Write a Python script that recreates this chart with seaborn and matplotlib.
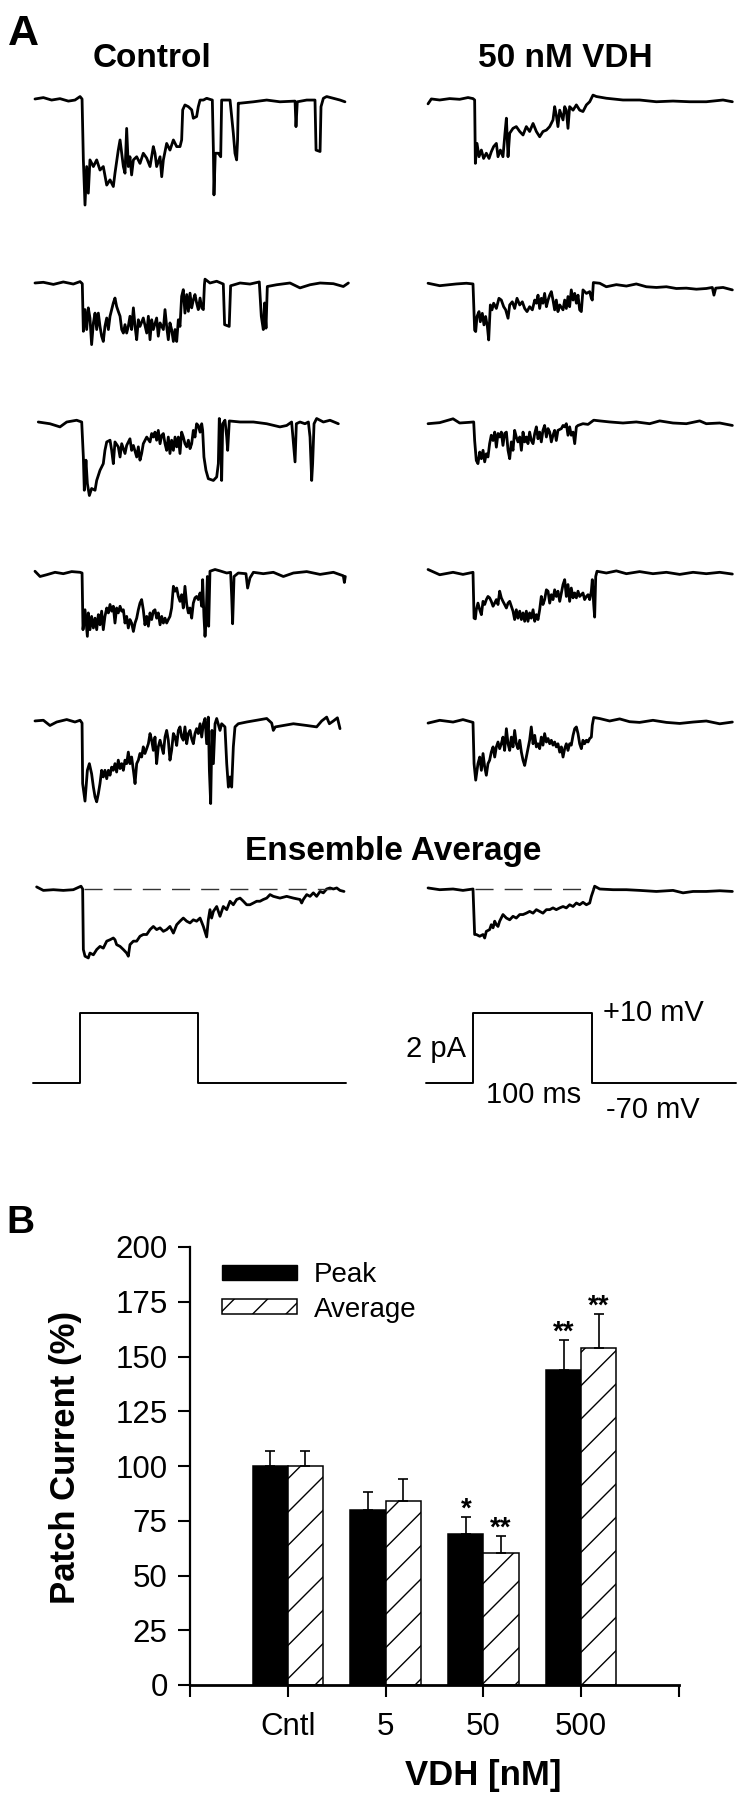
import numpy as np
import pandas as pd
import matplotlib
matplotlib.use("Agg")
import matplotlib.pyplot as plt
import matplotlib.patches as mpatches
import seaborn as sns

# ---------------- Panel A: single-channel traces (t in ms, current in pA) ----------------
ctrl_1 = [(-40.7, 0), (-33.6, 0.04), (-26.6, -0.03), (-19.5, 0.01), (-12.4, -0.06), (-6.8, -0.03),
          (-2.5, 0.07), (-0.8, 0), (0.3, -1.74), (1.7, -3.03), (3.1, -1.93), (4.5, -2.69), (5.9, -1.74),
          (8.8, -1.93), (11.6, -1.74), (14.4, -2.03), (17.2, -1.93), (20.1, -2.46), (22.9, -2.31),
          (25.7, -2.5), (27.1, -2.12), (29.9, -1.46), (31.4, -1.17), (32.8, -1.55), (34.2, -1.93),
          (35.6, -2.12), (37.0, -0.84), (38.4, -1.93), (39.8, -1.65), (41.2, -2.17), (42.7, -1.74),
          (45.5, -1.65), (48.3, -1.84), (51.1, -1.55), (54.0, -1.69), (56.8, -1.93), (59.6, -1.36),
          (61.0, -1.55), (62.4, -1.93), (65.3, -1.65), (66.7, -2.22), (68.1, -1.74), (70.9, -1.27),
          (73.7, -1.46), (76.6, -1.17), (79.4, -1.36), (82.2, -1.36), (83.6, -1.17), (84.5, -0.31),
          (86.4, -0.17), (89.3, -0.22), (92.1, -0.31), (93.5, -0.55), (96.3, -0.5), (97.7, -0.22),
          (99.2, -0.03), (102.0, -0.03), (104.8, 0.02), (107.6, -0.01), (109.6, -0.03), (110.5, -1.46),
          (111.0, -2.74), (112.1, -1.55), (114.7, -1.55), (116.7, -1.65), (117.5, -0.03), (118.9, -0.03),
          (124.6, -0.03), (127.4, -0.98), (128.8, -1.55), (130.2, -1.74), (131.0, -1.17), (131.6, -0.12),
          (133.1, -0.12), (144.4, -0.08), (155.7, -0.03), (166.9, -0.08), (179.7, -0.06), (180.5, -0.79),
          (181.6, -0.08), (189.6, -0.03), (196.6, -0.03), (197.5, -1.46), (200.9, -1.5), (201.7, -0.22),
          (203.7, 0.02), (206.5, 0.07), (212.2, 0.02), (217.8, -0.03), (222.0, -0.08)]

ctrl_2 = [(-40.7, 0), (-33.6, 0.02), (-25.1, -0.04), (-16.7, 0.03), (-8.2, -0.03), (-2.5, 0.04),
          (-0.6, -0.02), (0.3, -1.38), (1.7, -0.76), (3.1, -1.33), (4.5, -0.71), (5.9, -1.0), (7.3, -1.76),
          (8.8, -1.14), (10.2, -0.86), (11.6, -1.33), (13.0, -0.86), (14.4, -1.24), (15.8, -1.52),
          (17.2, -1.67), (18.6, -1.24), (20.1, -1.0), (21.5, -1.33), (22.9, -0.95), (24.3, -0.76),
          (25.7, -0.57), (27.1, -0.43), (28.5, -0.67), (29.9, -0.81), (31.4, -0.95), (32.8, -1.33),
          (34.2, -1.43), (35.6, -1.19), (37.0, -1.43), (38.4, -1.24), (39.8, -0.95), (41.2, -1.33),
          (42.7, -0.71), (44.1, -1.24), (45.5, -1.62), (46.9, -1.05), (48.3, -1.24), (51.1, -1.0),
          (54.0, -1.43), (55.4, -0.95), (56.8, -1.62), (58.2, -1.05), (59.6, -1.33), (62.4, -1.0),
          (63.8, -1.52), (65.3, -1.14), (68.1, -1.33), (69.5, -0.76), (70.9, -1.24), (72.3, -1.62),
          (73.7, -1.14), (75.1, -1.33), (76.6, -1.67), (78.0, -1.33), (79.4, -1.67), (80.8, -1.05),
          (82.2, -1.24), (83.6, -0.38), (85.0, -0.19), (86.4, -0.86), (87.9, -0.33), (89.3, -0.81),
          (90.7, -0.29), (92.1, -0.71), (93.5, -0.48), (94.9, -0.33), (96.3, -0.57), (97.7, -0.76),
          (99.2, -0.43), (100.6, -0.71), (102.0, -0.76), (102.9, -0.05), (103.4, 0.11), (107.6, 0.0),
          (113.3, 0.05), (118.9, -0.03), (120.0, -1.19), (123.9, -1.24), (125.1, -0.08), (133.1, 0.0),
          (141.5, -0.03), (149.4, 0.03), (151.1, -0.95), (152.8, -1.33), (153.9, -0.57), (155.1, -1.29),
          (156.2, -0.1), (164.1, -0.05), (175.4, 0.0), (183.9, -0.14), (192.4, -0.05), (200.9, 0.0),
          (212.2, -0.02), (220.6, -0.1), (224.9, 0.0)]

ctrl_3 = [(-37.9, 0), (-28.0, -0.05), (-19.5, -0.14), (-13.8, 0), (-5.4, 0.05), (-1.1, 0), (0.3, -1.0),
          (1.1, -1.95), (2.5, -1.09), (3.7, -1.76), (5.4, -2.1), (7.3, -1.9), (10.2, -1.95), (11.6, -1.67),
          (14.4, -1.38), (17.2, -1.19), (18.6, -0.81), (20.1, -0.57), (22.9, -0.52), (24.3, -0.81),
          (25.7, -1.19), (27.1, -0.57), (29.9, -0.71), (31.4, -1.0), (32.8, -0.62), (35.6, -0.9),
          (37.0, -0.67), (39.8, -0.48), (41.2, -0.81), (42.7, -0.67), (45.5, -1.0), (46.9, -0.71),
          (48.3, -1.09), (49.7, -0.9), (51.1, -0.62), (54.0, -0.43), (56.8, -0.57), (58.2, -0.33),
          (59.6, -0.43), (61.0, -0.29), (62.4, -0.52), (63.8, -0.24), (65.3, -0.62), (66.7, -0.38),
          (68.1, -0.33), (69.5, -0.62), (70.9, -0.81), (72.3, -0.43), (73.7, -0.9), (75.1, -0.52),
          (76.6, -0.81), (78.0, -0.43), (79.4, -0.71), (80.8, -0.43), (82.2, -0.9), (83.6, -0.29),
          (85.0, -0.43), (86.4, -0.62), (87.9, -0.71), (89.3, -0.52), (90.7, -0.76), (92.1, -0.62),
          (93.5, -0.24), (94.9, -0.43), (96.3, -0.05), (97.7, -0.1), (99.2, -0.29), (100.6, -0.05),
          (101.4, -0.24), (102.5, -1.0), (104.2, -1.38), (106.2, -1.62), (110.5, -1.67), (113.3, -1.57),
          (114.7, -1.19), (115.5, 0.1), (116.7, -0.33), (117.5, -1.67), (118.4, -0.05), (120.3, 0.05),
          (121.8, -0.43), (122.6, -0.81), (124.0, 0.03), (133.1, 0), (144.4, 0), (155.7, -0.05),
          (166.9, -0.14), (172.6, -0.1), (176.8, 0), (179.7, -1.14), (180.8, -0.05), (183.9, 0),
          (188.1, -0.05), (191.0, 0), (192.4, -0.43), (193.8, -1.67), (194.6, -1.19), (195.8, -0.05),
          (198.0, 0.1), (203.7, 0), (209.3, 0.05), (216.4, -0.05)]

ctrl_4 = [(-40.7, 0.05), (-36.4, -0.1), (-30.8, -0.05), (-23.7, 0.02), (-16.7, -0.02), (-9.6, 0.04),
          (-2.5, 0.02), (-0.8, 0), (0.0, -1.62), (1.7, -1.05), (3.7, -1.81), (4.5, -1.14), (5.9, -1.62),
          (7.3, -1.24), (8.8, -1.57), (10.2, -1.29), (11.6, -1.62), (13.0, -1.19), (14.4, -1.48),
          (15.8, -1.09), (17.2, -1.62), (18.6, -1.24), (20.1, -1.0), (21.5, -1.14), (22.9, -0.9),
          (24.3, -1.09), (25.7, -0.95), (27.1, -1.43), (28.5, -1.0), (29.9, -1.14), (31.4, -0.95),
          (32.8, -1.09), (34.2, -1.05), (35.6, -1.43), (37.0, -1.24), (38.4, -1.57), (39.8, -1.33),
          (41.2, -1.43), (42.7, -1.67), (44.1, -1.43), (45.5, -1.29), (46.9, -1.05), (48.3, -0.86),
          (49.7, -0.76), (51.1, -1.05), (52.5, -1.48), (54.0, -1.24), (55.4, -1.52), (56.8, -1.14),
          (58.2, -1.33), (59.6, -1.09), (61.0, -1.05), (62.4, -1.29), (63.8, -1.14), (65.3, -1.48),
          (66.7, -1.24), (68.1, -1.43), (69.5, -1.29), (70.9, -1.43), (72.3, -1.33), (73.7, -1.24),
          (75.1, -1.0), (76.6, -0.38), (78.0, -0.52), (79.4, -0.43), (80.8, -0.67), (82.2, -0.81),
          (83.6, -0.62), (85.0, -1.0), (86.4, -0.38), (87.9, -0.9), (89.3, -1.14), (90.7, -1.0),
          (92.1, -1.29), (93.5, -0.86), (94.9, -0.71), (96.3, -0.67), (97.7, -0.76), (99.2, -0.57),
          (100.6, -0.95), (101.4, -0.19), (102.5, -1.24), (103.4, -1.81), (104.2, -1.43), (105.4, -0.1),
          (106.5, -1.52), (107.6, 0.05), (111.9, 0.1), (116.1, 0.06), (121.8, 0), (125.1, 0.02),
          (126.0, -0.67), (126.8, -1.45), (128.0, -0.1), (131.6, 0), (138.1, -0.02), (139.5, -0.43),
          (141.5, -0.14), (144.4, 0.02), (152.8, -0.02), (161.3, 0.02), (169.8, -0.1), (178.3, 0),
          (189.6, 0.04), (200.9, -0.04), (212.2, 0.02), (220.6, -0.08), (221.5, -0.27), (222.3, -0.1)]

ctrl_5 = [(-40.7, 0.03), (-33.6, 0.05), (-28.0, -0.1), (-22.3, 0), (-13.8, 0.07), (-6.8, 0), (-2.5, 0.05),
          (-0.8, -0.03), (-0.3, -1.76), (1.7, -2.26), (3.7, -1.38), (5.4, -1.19), (7.3, -1.48),
          (8.8, -1.86), (10.2, -2.14), (11.6, -2.28), (13.0, -2.05), (14.4, -1.76), (15.8, -1.38),
          (17.2, -1.57), (18.6, -1.38), (20.1, -1.62), (21.5, -1.38), (22.9, -1.52), (24.3, -1.29),
          (25.7, -1.38), (27.1, -1.19), (28.5, -1.43), (29.9, -1.09), (31.4, -1.33), (32.8, -1.19),
          (34.2, -1.38), (35.6, -1.09), (37.0, -1.19), (38.4, -0.86), (39.8, -1.19), (41.2, -1.0),
          (42.7, -1.38), (44.1, -1.76), (45.5, -1.19), (46.9, -1.09), (48.3, -0.9), (49.7, -1.0),
          (51.1, -0.71), (52.5, -0.9), (54.0, -0.76), (55.4, -0.62), (56.8, -0.33), (58.2, -0.52),
          (59.6, -0.81), (61.0, -0.43), (62.4, -1.19), (63.8, -0.71), (65.3, -0.52), (66.7, -0.71),
          (68.1, -0.9), (69.5, -0.43), (70.9, -0.24), (72.3, -0.52), (73.7, -1.09), (75.1, -0.81),
          (76.6, -0.33), (78.0, -0.43), (79.4, -0.67), (80.8, -0.24), (82.2, -0.14), (83.6, -0.43),
          (85.0, -0.52), (86.4, -0.14), (87.9, -0.62), (89.3, -0.33), (90.7, -0.24), (92.1, -0.48),
          (93.5, -0.62), (94.9, -0.33), (96.3, -0.19), (97.7, -0.33), (99.2, -0.05), (100.6, -0.43),
          (102.0, -0.05), (103.4, 0.1), (104.8, -0.62), (106.2, 0.14), (107.1, -1.38), (108.2, -2.33),
          (109.3, -0.24), (110.5, -1.19), (111.9, -0.05), (113.3, 0.1), (116.1, -0.24), (117.5, -0.05),
          (120.3, -0.14), (121.8, -1.19), (123.2, -1.86), (124.6, -1.57), (126.0, -1.86), (127.4, -0.71),
          (128.8, -0.14), (131.6, -0.05), (138.7, 0), (147.2, 0.05), (155.7, 0.1), (159.9, -0.03),
          (161.3, -0.24), (163.0, -0.14), (169.8, -0.1), (178.3, -0.05), (189.6, -0.1), (198.0, -0.14),
          (202.3, 0.03), (206.5, 0.14), (208.8, -0.05), (212.2, 0.03), (215.6, 0.12), (217.8, -0.19)]

ctrl_avg = [(-39.3, 0.06), (-33.6, -0.04), (-25.1, -0.02), (-16.7, -0.04), (-8.2, -0.02), (-1.7, 0.08),
            (-0.3, 0), (0.3, -1.73), (1.7, -1.92), (4.5, -1.97), (5.9, -1.83), (8.8, -1.88), (11.6, -1.73),
            (14.4, -1.64), (17.2, -1.69), (20.1, -1.49), (22.9, -1.45), (25.7, -1.4), (27.1, -1.45),
            (28.5, -1.59), (31.4, -1.64), (34.2, -1.73), (37.0, -1.83), (38.4, -1.92), (39.8, -1.59),
            (42.7, -1.49), (45.5, -1.49), (48.3, -1.35), (51.1, -1.3), (54.0, -1.3), (56.8, -1.16),
            (59.6, -1.07), (62.4, -1.16), (65.3, -1.11), (68.1, -1.21), (70.9, -1.16), (73.7, -1.07),
            (76.6, -1.26), (79.4, -1.02), (82.2, -0.92), (85.0, -0.83), (87.9, -0.92), (90.7, -0.97),
            (93.5, -0.88), (96.3, -0.92), (99.2, -0.83), (102.0, -1.07), (104.8, -1.37), (106.2, -0.88),
            (107.6, -0.59), (109.0, -0.83), (110.5, -0.64), (113.3, -0.5), (116.1, -0.78), (118.9, -0.5),
            (121.8, -0.59), (124.6, -0.35), (127.4, -0.45), (130.2, -0.3), (133.1, -0.26), (135.9, -0.35),
            (138.7, -0.45), (141.5, -0.45), (144.4, -0.4), (147.2, -0.35), (150.0, -0.35), (152.8, -0.3),
            (155.7, -0.26), (158.5, -0.16), (161.3, -0.21), (166.9, -0.26), (172.6, -0.21), (178.3, -0.26),
            (183.9, -0.3), (185.3, -0.4), (186.7, -0.3), (189.6, -0.16), (192.4, -0.21), (195.2, -0.11),
            (198.0, -0.21), (200.9, -0.07), (203.7, -0.11), (206.5, 0), (209.3, 0.03), (212.2, 0),
            (215.0, 0.03), (217.8, -0.04), (221.2, -0.07)]

vdh_1 = [(-39.8, -0.11), (-37.0, 0.03), (-29.9, 0), (-21.5, 0.04), (-13.0, 0.02), (-5.9, 0.07),
         (-1.7, 0.04), (-0.3, 0), (0.3, -1.81), (1.7, -1.24), (3.4, -1.62), (5.4, -1.43), (7.3, -1.67),
         (9.6, -1.52), (11.9, -1.67), (13.8, -1.48), (15.8, -1.33), (18.1, -1.24), (19.5, -1.62),
         (21.5, -1.43), (23.7, -1.62), (25.4, -0.95), (26.6, -0.52), (28.0, -1.62), (29.4, -0.95),
         (32.2, -0.81), (35.0, -0.76), (37.9, -0.9), (40.7, -1.0), (43.5, -0.76), (46.3, -0.9),
         (49.2, -0.67), (52.0, -0.9), (54.8, -1.05), (57.6, -0.9), (60.5, -0.86), (63.3, -0.76),
         (66.1, -0.57), (67.5, -0.19), (68.9, -0.43), (70.3, -0.76), (71.8, -0.29), (74.6, -0.57),
         (76.0, -0.19), (77.4, -0.29), (78.8, -0.81), (80.2, -0.19), (83.1, -0.29), (85.9, -0.14),
         (88.7, -0.29), (91.5, -0.33), (94.4, -0.14), (97.2, -0.05), (100.0, 0.14), (102.8, 0.1),
         (111.3, 0.05), (125.4, 0), (139.5, 0), (153.7, -0.05), (167.8, -0.03), (181.9, -0.05),
         (196.0, -0.05), (210.2, 0), (218.1, -0.05)]

vdh_2 = [(-39.8, 0.05), (-29.9, -0.02), (-15.8, 0.03), (-7.3, 0.05), (-1.7, 0.03), (-0.3, -1.29),
         (0.6, -1.33), (1.7, -0.9), (3.4, -0.76), (4.5, -1.05), (6.2, -0.81), (7.6, -1.14), (9.0, -0.9),
         (10.5, -1.19), (11.6, -1.57), (13.0, -0.57), (14.4, -0.71), (15.8, -0.52), (18.1, -0.67),
         (20.3, -0.38), (22.3, -0.43), (24.3, -0.62), (26.0, -0.71), (28.0, -0.95), (29.4, -0.57),
         (31.6, -0.48), (33.6, -0.67), (35.6, -0.38), (37.9, -0.57), (40.1, -0.48), (42.1, -0.67),
         (44.1, -0.76), (46.3, -0.62), (48.6, -0.71), (50.6, -0.43), (52.0, -0.52), (53.4, -0.29),
         (54.8, -0.67), (56.2, -0.38), (57.6, -0.52), (59.0, -0.24), (60.5, -0.62), (61.9, -0.43),
         (63.3, -0.29), (64.7, -0.19), (66.1, -0.43), (67.5, -0.71), (68.9, -0.43), (70.3, -0.76),
         (71.8, -0.57), (74.6, -0.71), (76.0, -0.43), (77.4, -0.67), (78.8, -0.33), (80.2, -0.62),
         (81.6, -0.14), (83.1, -0.43), (84.5, -0.24), (85.9, -0.52), (87.3, -0.29), (88.7, -0.71),
         (90.1, -0.76), (91.5, -0.14), (94.4, -0.24), (97.2, -0.19), (98.6, -0.38), (99.4, -0.43),
         (100.3, 0.07), (105.7, 0.05), (111.3, -0.05), (119.8, 0.01), (128.3, -0.03), (136.7, 0.03),
         (145.2, -0.05), (153.7, -0.07), (162.2, -0.05), (170.6, -0.1), (179.1, -0.09), (187.6, -0.12),
         (196.0, -0.1), (201.1, -0.07), (202.5, -0.29), (204.0, -0.09), (210.2, -0.07), (218.1, -0.14)]

vdh_3 = [(-39.8, -0.02), (-29.9, 0.01), (-18.6, 0.12), (-13.0, 0), (-4.5, 0.02), (-1.1, 0.03),
         (-0.3, -0.5), (1.1, -1.07), (2.5, -1.16), (4.0, -0.83), (5.4, -1.02), (6.8, -0.78), (8.2, -1.11),
         (9.6, -0.88), (11.0, -0.97), (12.4, -0.59), (13.8, -0.35), (15.3, -0.5), (16.7, -0.26),
         (18.1, -0.69), (19.5, -0.3), (20.9, -0.4), (22.3, -0.26), (23.7, -0.64), (25.1, -0.3),
         (26.6, -0.26), (28.0, -0.78), (29.4, -1.02), (30.8, -0.54), (32.2, -0.78), (33.6, -0.21),
         (35.0, -0.4), (36.4, -0.54), (37.9, -0.4), (39.3, -0.78), (40.7, -0.26), (42.1, -0.54),
         (43.5, -0.4), (44.9, -0.59), (46.3, -0.26), (47.7, -0.5), (49.2, -0.59), (50.6, -0.3),
         (52.0, -0.11), (53.4, -0.45), (54.8, -0.26), (56.2, -0.54), (57.6, -0.21), (59.0, -0.07),
         (60.5, -0.4), (61.9, -0.16), (63.3, -0.26), (64.7, -0.54), (66.1, -0.35), (67.5, -0.21),
         (68.9, -0.5), (70.3, -0.21), (73.2, -0.16), (74.6, -0.07), (76.0, -0.11), (77.4, -0.02),
         (78.8, -0.35), (80.2, -0.11), (81.6, -0.35), (83.1, -0.26), (84.5, -0.59), (85.9, -0.11),
         (87.3, -0.07), (91.5, -0.02), (95.8, -0.04), (100.6, 0.08), (105.7, 0.06), (114.1, 0.03),
         (125.4, 0), (136.7, 0.03), (148.0, -0.02), (156.5, 0.06), (167.8, 0), (179.1, -0.02),
         (190.4, 0.06), (196.0, -0.02), (207.4, 0), (218.1, -0.07)]

vdh_4 = [(-39.8, 0.1), (-29.9, -0.05), (-18.6, 0.02), (-10.2, -0.04), (-1.7, 0.02), (-0.8, -1.29),
         (0.3, -1.31), (1.1, -1.05), (2.5, -0.86), (4.0, -1.05), (5.4, -1.19), (6.8, -0.81), (8.2, -0.9),
         (9.6, -0.76), (11.0, -0.67), (12.4, -0.71), (13.8, -0.81), (15.3, -0.95), (16.7, -0.86),
         (18.1, -0.76), (19.5, -0.9), (20.9, -0.52), (22.3, -0.71), (23.7, -0.81), (25.1, -0.9),
         (26.6, -1.0), (28.0, -0.86), (29.4, -0.81), (30.8, -0.95), (32.2, -1.09), (33.6, -1.33),
         (35.0, -1.05), (36.4, -1.29), (37.9, -1.09), (39.3, -1.33), (40.7, -1.14), (42.1, -1.38),
         (43.5, -1.09), (44.9, -1.38), (46.3, -1.14), (47.7, -1.29), (49.2, -1.05), (50.6, -1.38),
         (52.0, -1.19), (53.4, -1.33), (54.8, -1.05), (56.2, -0.67), (57.6, -0.9), (59.0, -0.76),
         (60.5, -0.48), (61.9, -0.52), (63.3, -0.86), (64.7, -0.62), (66.1, -0.76), (67.5, -0.48),
         (68.9, -0.67), (70.3, -0.52), (71.8, -0.81), (73.2, -0.57), (74.6, -0.33), (76.0, -0.19),
         (77.4, -0.67), (78.8, -0.33), (80.2, -0.81), (81.6, -0.43), (83.1, -0.71), (84.5, -0.57),
         (85.9, -0.71), (87.3, -0.52), (88.7, -0.67), (90.1, -0.62), (91.5, -0.57), (92.9, -0.76),
         (94.4, -0.67), (95.8, -0.62), (97.2, -0.76), (98.6, -0.52), (99.4, -0.19), (100.6, -0.9),
         (101.4, -1.26), (102.3, -0.1), (103.4, 0.05), (111.3, 0), (119.8, 0.06), (128.3, -0.02),
         (139.5, 0.04), (150.8, -0.02), (162.2, 0.02), (173.5, -0.04), (184.8, 0.02), (196.0, -0.02),
         (207.4, 0.02), (218.1, -0.03)]

vdh_5 = [(-39.8, -0.06), (-29.9, 0.02), (-18.6, -0.03), (-10.2, 0.04), (-1.7, -0.04), (-0.8, -1.22),
         (0.6, -1.69), (2.5, -1.22), (4.0, -1.03), (5.4, -1.41), (6.8, -0.93), (8.2, -1.31), (9.6, -1.55),
         (11.0, -1.22), (12.4, -1.12), (13.8, -0.89), (15.3, -0.74), (16.7, -1.03), (18.1, -0.74),
         (19.5, -0.6), (20.9, -0.79), (22.3, -0.65), (23.7, -0.46), (25.1, -0.84), (26.6, -0.22),
         (28.0, -0.65), (29.4, -0.84), (30.8, -0.46), (32.2, -0.74), (33.6, -0.27), (35.0, -0.65),
         (36.4, -0.79), (37.9, -0.55), (39.3, -0.89), (40.7, -1.12), (42.1, -1.27), (43.5, -1.03),
         (44.9, -0.79), (46.3, -0.55), (47.7, -0.17), (49.2, -0.65), (50.6, -0.41), (52.0, -0.74),
         (53.4, -0.65), (54.8, -0.79), (56.2, -0.46), (57.6, -0.69), (59.0, -0.36), (60.5, -0.6),
         (61.9, -0.5), (63.3, -0.65), (64.7, -0.55), (66.1, -0.69), (67.5, -0.6), (68.9, -0.74),
         (70.3, -0.65), (71.8, -0.89), (73.2, -0.74), (74.6, -1.03), (76.0, -0.79), (77.4, -0.65),
         (78.8, -0.84), (80.2, -0.65), (81.6, -0.69), (83.1, -0.41), (84.5, -0.22), (85.9, -0.17),
         (87.3, -0.36), (88.7, -0.65), (90.1, -0.79), (91.5, -0.55), (92.9, -0.65), (94.4, -0.55),
         (95.8, -0.6), (97.2, -0.5), (98.6, -0.46), (99.4, -0.12), (100.6, 0.1), (105.7, 0.07),
         (114.1, 0), (122.6, 0.06), (131.0, -0.02), (139.5, -0.04), (150.8, 0.02), (162.2, -0.04),
         (173.5, -0.07), (184.8, -0.03), (196.0, 0), (207.4, -0.08), (218.1, -0.03)]

vdh_avg = [(-39.8, 0.03), (-29.9, -0.02), (-18.6, 0), (-10.2, -0.04), (-1.7, 0), (-0.3, -1.3), (1.1, -1.3),
           (4.0, -1.35), (6.8, -1.3), (8.2, -1.4), (9.6, -1.21), (12.4, -1.16), (13.8, -1.02), (15.3, -1.11),
           (16.7, -0.92), (18.1, -1.02), (19.5, -1.07), (20.9, -0.92), (23.7, -0.73), (26.6, -0.83),
           (29.4, -0.88), (32.2, -0.78), (35.0, -0.83), (37.9, -0.73), (40.7, -0.73), (43.5, -0.69),
           (46.3, -0.64), (49.2, -0.69), (52.0, -0.59), (54.8, -0.64), (57.6, -0.69), (60.5, -0.59),
           (63.3, -0.59), (66.1, -0.54), (68.9, -0.59), (71.8, -0.54), (74.6, -0.5), (77.4, -0.54),
           (80.2, -0.45), (83.1, -0.5), (85.9, -0.4), (88.7, -0.45), (91.5, -0.38), (94.4, -0.45),
           (97.2, -0.4), (98.6, -0.21), (100.0, -0.07), (101.4, 0.08), (105.7, 0), (117.0, -0.02),
           (128.3, -0.02), (139.5, -0.04), (153.7, -0.07), (167.8, -0.04), (176.3, -0.11), (184.8, -0.07),
           (196.0, -0.07), (207.4, -0.05), (218.1, -0.07)]

# command voltage (ms, mV)
ctrl_step_t = [-42.5, -2.5, 97.5, 223]
vdh_step_t = [-41.5, -1.5, 99, 221]
step_mv = [-70, 10, -70, -70]

# ---------------- Panel B: bar chart ----------------
groups = ['Cntl', '5', '50', '500']
peak_mean = [100, 80, 69, 144]
peak_sem = [7, 8, 7.5, 13.5]
avg_mean = [100, 84, 60.5, 154]
avg_sem = [7, 10, 7.5, 15.5]
peak_stars = ['', '', '*', '**']
avg_stars = ['', '', '**', '**']

sns.set_style("ticks")
plt.rcParams['font.family'] = ['Liberation Sans', 'DejaVu Sans']
plt.rcParams.update({'text.color': 'black', 'axes.labelcolor': 'black', 'axes.edgecolor': 'black',
                     'xtick.color': 'black', 'ytick.color': 'black', 'hatch.linewidth': 1.0})

W, H = 746, 1800
fig = plt.figure(figsize=(W / 100, H / 100), dpi=100)


def px_axes(left, top, width, height):
    return fig.add_axes([left / W, 1 - (top + height) / H, width / W, height / H])


def ftext(x, y, s, **kw):
    fig.text(x / W, 1 - y / H, s, **kw)


PX_MS = 1.18      # px per ms
PX_PA = 35.0      # px per pA
T_LIM = (-45, 226)
I_LIM = (-3.3, 0.5)

# onset x (px) of each column and baseline y (px) of each row
col_x0 = {'ctrl': 83, 'vdh': 475}
rows = [
    ('ctrl', ctrl_1, 99), ('vdh', vdh_1, 100),
    ('ctrl', ctrl_2, 283), ('vdh', vdh_2, 285),
    ('ctrl', ctrl_3, 422), ('vdh', vdh_3, 423),
    ('ctrl', ctrl_4, 573), ('vdh', vdh_4, 573),
    ('ctrl', ctrl_5, 722), ('vdh', vdh_5, 721),
    ('ctrl', ctrl_avg, 889), ('vdh', vdh_avg, 889),
]

trace_axes = []
for col, trace, base in rows:
    left = col_x0[col] + T_LIM[0] * PX_MS
    top = base - I_LIM[1] * PX_PA
    ax = px_axes(left, top, (T_LIM[1] - T_LIM[0]) * PX_MS, (I_LIM[1] - I_LIM[0]) * PX_PA)
    t, cur = zip(*trace)
    sns.lineplot(x=list(t), y=list(cur), ax=ax, color='black', linewidth=2.0,
                 estimator=None, sort=False)
    ax.set_xlim(T_LIM)
    ax.set_ylim(I_LIM)
    ax.axis('off')
    ax.patch.set_alpha(0)
    trace_axes.append(ax)

# dashed zero lines on the ensemble averages
trace_axes[10].plot([0.5, 210], [0, 0], color='#333333', lw=1.0, dashes=(13, 8))
trace_axes[11].plot([0, 100], [0, 0], color='#333333', lw=1.0, dashes=(13, 8))

# voltage protocol
V_LIM = (-90, 25)
PX_MV = 0.875
for col, st in [('ctrl', ctrl_step_t), ('vdh', vdh_step_t)]:
    left = col_x0[col] + T_LIM[0] * PX_MS
    top = 1013 - (V_LIM[1] - 10) * PX_MV
    ax = px_axes(left, top, (T_LIM[1] - T_LIM[0]) * PX_MS, (V_LIM[1] - V_LIM[0]) * PX_MV)
    ax.plot(st, step_mv, drawstyle='steps-post', color='black', lw=1.4)
    ax.set_xlim(T_LIM)
    ax.set_ylim(V_LIM)
    ax.axis('off')
    ax.patch.set_alpha(0)
    if col == 'vdh':
        kw = dict(fontsize=21, clip_on=False)
        ax.text(108.5, 10, '+10 mV', ha='left', va='center', **kw)
        ax.text(111, -101, '-70 mV', ha='left', va='center', **kw)
        ax.text(50, -84, '100 ms', ha='center', va='center', **kw)
        ax.text(-7.5, -31, '2 pA', ha='right', va='center', **kw)

ftext(8, 45, 'A', fontsize=31, fontweight='bold', ha='left', va='baseline')
ftext(152, 67, 'Control', fontsize=24, fontweight='bold', ha='center', va='baseline')
ftext(565, 67, '50 nM VDH', fontsize=24, fontweight='bold', ha='center', va='baseline')
ftext(393, 860, 'Ensemble Average', fontsize=24, fontweight='bold', ha='center', va='baseline')

# ---------------- Panel B ----------------
ftext(6, 1233, 'B', fontsize=28, fontweight='bold', ha='left', va='baseline')

axb = px_axes(190, 1247, 489, 438)
df = pd.DataFrame({
    'group': groups * 2,
    'measure': ['Peak'] * len(groups) + ['Average'] * len(groups),
    'value': peak_mean + avg_mean,
})
sns.barplot(data=df, x='group', y='value', hue='measure', hue_order=['Peak', 'Average'],
            palette=['black', 'white'], edgecolor='black', linewidth=1.1, width=0.72,
            saturation=1, errorbar=None, legend=False, ax=axb)
for bar in axb.containers[1]:
    bar.set_hatch('/')

xpos = np.arange(len(groups))
for off, mean, sem, stars in [(-0.18, peak_mean, peak_sem, peak_stars),
                              (0.18, avg_mean, avg_sem, avg_stars)]:
    axb.errorbar(xpos + off, mean, yerr=[np.zeros(len(mean)), sem], fmt='none',
                 ecolor='black', elinewidth=1.2, capsize=3.6, capthick=1.2)
    for x, m, s, st in zip(xpos + off, mean, sem, stars):
        if st:
            axb.text(x, m + s + 3.5, st, ha='center', va='center', fontsize=20, fontweight='bold')

axb.set_xlim(-1, 4)
axb.set_ylim(0, 200)
axb.set_xticks(range(-1, 5))
axb.set_xticklabels([''] + groups + [''])
axb.set_yticks(range(0, 201, 25))
axb.tick_params(axis='both', direction='out', length=8.6, width=1.5, labelsize=22.5)
axb.tick_params(axis='x', pad=11)
axb.tick_params(axis='y', pad=7.5)
for side in ['top', 'right']:
    axb.spines[side].set_visible(False)
axb.spines['left'].set_linewidth(1.6)
axb.spines['bottom'].set_linewidth(2.0)

axb.set_xlabel('VDH [nM]', fontsize=25, fontweight='bold', va='center')
axb.xaxis.set_label_coords((483 - 190) / 489, (1685 - 1775) / 438)
axb.set_ylabel('Patch Current (%)', fontsize=25, fontweight='bold', va='center', ha='center')
axb.yaxis.set_label_coords((66 - 190) / 489, (1685 - 1457) / 438)

handles = [mpatches.Patch(facecolor='black', edgecolor='black'),
           mpatches.Patch(facecolor='white', edgecolor='black', hatch='/', linewidth=1.1)]
axb.legend(handles, ['Peak', 'Average'], loc='upper left', bbox_to_anchor=(0.065, 0.965),
           frameon=False, fontsize=20, handlelength=2.7, handleheight=0.47, handletextpad=0.6,
           labelspacing=0.3, borderpad=0, borderaxespad=0)

fig.savefig('out.png', dpi=100)
